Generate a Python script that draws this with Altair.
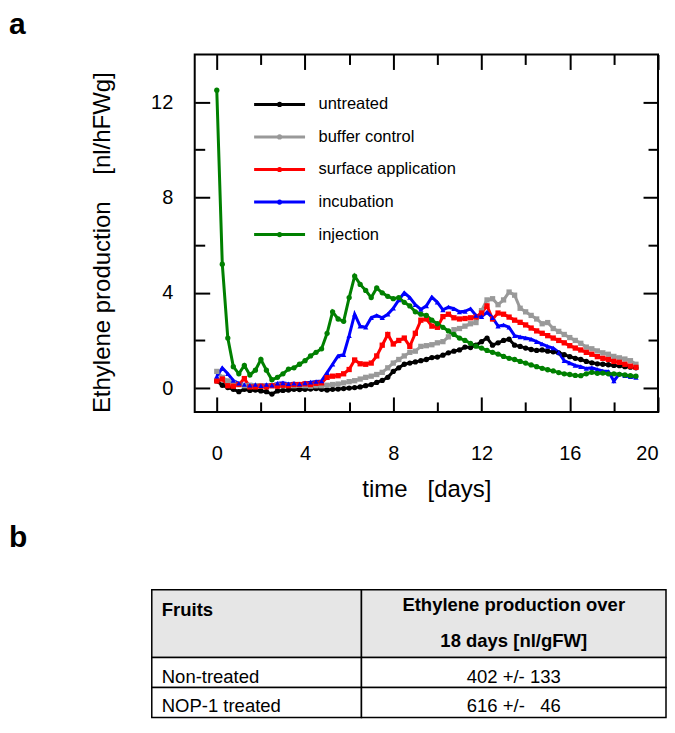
import altair as alt
import pandas as pd

FONT = "Liberation Sans"

# ---------------- panel a data ----------------
days = [0, 0.25, 0.5, 0.75, 1, 1.25, 1.5, 1.75, 2, 2.25,
        2.5, 2.75, 3, 3.25, 3.5, 3.75, 4, 4.25, 4.5, 4.75,
        5, 5.25, 5.5, 5.75, 6, 6.25, 6.5, 6.75, 7, 7.25,
        7.5, 7.75, 8, 8.25, 8.5, 8.75, 9, 9.25, 9.5, 9.75,
        10, 10.25, 10.5, 10.75, 11, 11.25, 11.5, 11.75, 12, 12.25,
        12.5, 12.75, 13, 13.25, 13.5, 13.75, 14, 14.25, 14.5, 14.75,
        15, 15.25, 15.5, 15.75, 16, 16.25, 16.5, 16.75, 17, 17.25,
        17.5, 17.75, 18, 18.25, 18.5, 18.75, 19]

untreated = [0.3, 0.12, 0.02, -0.05, -0.15, -0.05, -0.1, -0.08, -0.12, -0.15,
             -0.25, -0.12, -0.1, -0.08, -0.05, -0.06, -0.05, -0.04, -0.02, -0.05,
             -0.08, -0.05, -0.04, -0.02, 0.0, 0.02, 0.05, 0.1, 0.15, 0.24,
             0.32, 0.45, 0.7, 0.85, 1.0, 1.05, 1.1, 1.15, 1.2, 1.28,
             1.3, 1.38, 1.48, 1.55, 1.6, 1.72, 1.7, 1.8, 1.95, 2.1,
             1.8, 1.9, 2.0, 2.05, 1.8, 1.75, 1.68, 1.62, 1.58, 1.6,
             1.55, 1.52, 1.48, 1.4, 1.32, 1.25, 1.2, 1.12, 1.06, 1.02,
             1.0, 0.98, 0.95, 0.94, 0.9, 0.88, 0.85]

buffer_control = [0.7, 0.45, 0.3, 0.2, 0.15, 0.1, 0.12, 0.1, 0.1, 0.08,
                  0.1, 0.12, 0.1, 0.12, 0.1, 0.12, 0.1, 0.08, 0.1, 0.1,
                  0.12, 0.15, 0.17, 0.22, 0.27, 0.31, 0.38, 0.45, 0.5, 0.57,
                  0.66, 0.85, 1.05, 1.2, 1.35, 1.5, 1.55, 1.75, 1.78, 1.82,
                  1.9, 1.95, 2.15, 2.45, 2.5, 2.6, 2.7, 2.75, 3.25, 3.7,
                  3.75, 3.5, 3.7, 4.03, 3.9, 3.35, 3.2, 3.05, 2.9, 2.7,
                  2.75, 2.5, 2.38, 2.25, 2.12, 2.0, 1.88, 1.72, 1.65, 1.56,
                  1.48, 1.42, 1.33, 1.27, 1.22, 1.15, 1.0]

surface_application = [0.3, 0.38, 0.1, 0.08, 0.15, 0.4, 0.05, 0.05, 0.08, 0.05,
                       0.1, 0.08, 0.12, 0.1, 0.15, 0.15, 0.18, 0.15, 0.2, 0.22,
                       0.45, 0.5, 0.52, 0.6, 0.78, 1.18, 1.02, 1.0, 1.05, 1.35,
                       1.8, 2.25, 1.85, 2.0, 2.1, 1.75, 2.3, 2.85, 2.9, 2.6,
                       2.55, 3.0, 3.1, 2.95, 2.9, 2.92, 2.95, 2.98, 3.15, 3.45,
                       2.9, 3.15, 3.1, 2.98, 2.85, 2.76, 2.65, 2.52, 2.4, 2.3,
                       2.2, 2.1, 2.0, 1.9, 1.78, 1.68, 1.6, 1.5, 1.42, 1.32,
                       1.25, 1.2, 1.12, 1.08, 1.0, 0.92, 0.87]

incubation = [0.5, 0.85, 0.6, 0.32, 0.2, 0.15, 0.12, 0.15, 0.1, 0.15,
              0.12, 0.2, 0.22, 0.18, 0.2, 0.17, 0.22, 0.25, 0.28, 0.3,
              0.65, 1.0, 1.35, 1.4, 2.2, 3.1, 2.6, 2.55, 2.95, 3.05,
              2.95, 3.1, 3.35, 3.7, 4.0, 3.8, 3.5, 3.3, 3.45, 3.82,
              3.6, 3.28, 3.4, 3.33, 3.2, 3.22, 3.33, 3.05, 3.0, 3.18,
              2.95, 2.6, 2.65, 2.55, 2.2, 2.15, 2.1, 2.05, 1.95, 1.85,
              1.75, 1.68, 1.5, 1.15, 1.05, 0.95, 0.9, 0.82, 0.85, 0.78,
              0.72, 0.7, 0.3, 0.6, 0.52, 0.48, 0.45]

injection = [12.5, 5.2, 2.1, 0.9, 0.6, 0.95, 0.55, 0.75, 1.2, 0.75,
             0.35, 0.45, 0.6, 0.8, 0.85, 1.0, 1.15, 1.35, 1.5, 1.65,
             2.3, 3.2, 2.9, 2.8, 3.8, 4.7, 4.35, 4.1, 3.8, 4.2,
             4.0, 3.85, 3.75, 3.8, 3.6, 3.45, 3.2, 3.1, 3.05, 2.85,
             2.7, 2.55, 2.4, 2.25, 2.1, 2.0, 1.88, 1.76, 1.68, 1.58,
             1.5, 1.43, 1.33, 1.25, 1.2, 1.12, 1.05, 0.97, 0.9, 0.83,
             0.77, 0.72, 0.65, 0.6, 0.57, 0.53, 0.52, 0.6, 0.66, 0.62,
             0.63, 0.6, 0.6, 0.58, 0.55, 0.52, 0.5]

series_names = ["untreated", "buffer control", "surface application", "incubation", "injection"]
series_colors = ["#000000", "#999999", "#ff0000", "#0000ff", "#008000"]
series_shapes = ["circle", "square", "square", "triangle-up", "circle"]

x_major = [0, 4, 8, 12, 16, 20]
x_minor = [2, 6, 10, 14, 18]
y_major = [0, 4, 8, 12]
y_minor = [2, 6, 10]

# ---------------- panel b data ----------------
table_head_left = "Fruits"
table_head_right = ["Ethylene production over", "18 days [nl/gFW]"]
table_groups = ["Non-treated", "NOP-1 treated"]
table_values = ["402 +/- 133", "616 +/-\u00a0\u00a0\u00a046"]

# ---------------- build panel a ----------------
series_values = [untreated, buffer_control, surface_application, incubation, injection]
rows = []
for k, (name, vals) in enumerate(zip(series_names, series_values)):
    for d, v in zip(days, vals):
        rows.append({"day": d, "value": v, "series": name, "marker": name, "k": k})
df = pd.DataFrame(rows)

x_scale = alt.Scale(domain=[-1, 20], nice=False, zero=False)
y_scale = alt.Scale(domain=[-1, 14], nice=False, zero=False)
color_scale = alt.Scale(domain=series_names, range=series_colors)
shape_scale = alt.Scale(domain=series_names, range=series_shapes)


def tick_axis(orient, values, size):
    return alt.Axis(orient=orient, values=values, tickSize=size, offset=-size,
                    labels=False, domain=False, grid=False, ticks=True,
                    tickColor="black", tickWidth=2, title=None)


legend = alt.Legend(
    title=None, orient="none", legendX=75, legendY=40,
    symbolType="M-3,0H3M0.13,0A0.13,0.13,0,1,1,-0.13,0A0.13,0.13,0,1,1,0.13,0Z",
    symbolSize=289, symbolStrokeWidth=3, labelFontSize=16.5, labelFont=FONT,
    labelColor="black", labelOffset=29, rowPadding=13.6, padding=0,
)

base = alt.Chart(df)

lines = base.mark_line(strokeWidth=3).encode(
    x=alt.X("day:Q", scale=x_scale, axis=alt.Axis(
        orient="bottom", values=x_major, tickSize=15, offset=-15, labelPadding=32,
        labelFont=FONT, labelFontSize=20, labelColor="black", domain=False, grid=False,
        tickColor="black", tickWidth=2, title="time\u00a0\u00a0\u00a0[days]",
        titleFont=FONT, titleFontSize=24, titleFontWeight="normal", titleColor="black",
        titlePadding=14)),
    y=alt.Y("value:Q", scale=y_scale, axis=alt.Axis(
        orient="left", values=y_major, tickSize=15, offset=-15, labelPadding=22,
        labelFont=FONT, labelFontSize=20, labelColor="black", domain=False, grid=False,
        tickColor="black", tickWidth=2,
        title="Ethylene production\u00a0\u00a0\u00a0\u00a0[nl/hFWg]",
        titleFont=FONT, titleFontSize=24, titleFontWeight="normal", titleColor="black",
        titlePadding=36, titleY=188)),
    color=alt.Color("series:N", scale=color_scale, legend=legend),
    detail="k:O",
)

points = base.mark_point(filled=True, size=28, opacity=1).encode(
    x=alt.X("day:Q", scale=x_scale, axis=tick_axis("bottom", x_minor, 10)),
    y=alt.Y("value:Q", scale=y_scale, axis=tick_axis("left", y_minor, 10)),
    color=alt.Color("marker:N", scale=color_scale, legend=None),
    shape=alt.Shape("marker:N", scale=shape_scale, legend=None),
)

top_right_major = base.mark_point(opacity=0).encode(
    x=alt.X("day:Q", scale=x_scale, axis=tick_axis("top", x_major, 15)),
    y=alt.Y("value:Q", scale=y_scale, axis=tick_axis("right", y_major, 15)),
)
top_right_minor = base.mark_point(opacity=0).encode(
    x=alt.X("day:Q", scale=x_scale, axis=tick_axis("top", x_minor, 10)),
    y=alt.Y("value:Q", scale=y_scale, axis=tick_axis("right", y_minor, 10)),
)

panel_a = alt.layer(lines, points, top_right_major, top_right_minor).resolve_axis(
    x="independent", y="independent"
).resolve_scale(
    color="independent", shape="independent"
).resolve_legend(
    color="independent", shape="independent"
).properties(
    width=464, height=358,
    view=alt.ViewBackground(stroke="black", strokeWidth=2),
    title=alt.TitleParams("a", anchor="start", frame="group", dx=-186, fontSize=30,
                          fontWeight="bold", font=FONT, color="black", offset=14),
)

# ---------------- build panel b (table) ----------------
col_widths = [210, 305]
row_heights = [68, 30, 30]
col_edges = [0, col_widths[0], col_widths[0] + col_widths[1]]
row_edges = [0, row_heights[0], row_heights[0] + row_heights[1], sum(row_heights)]

cells = []
for r in range(3):
    for c in range(2):
        cells.append({"x0": col_edges[c], "x1": col_edges[c + 1],
                      "y0": row_edges[r], "y1": row_edges[r + 1],
                      "fill": "#e6e6e6" if r == 0 else "#ffffff"})
cells_df = pd.DataFrame(cells)

tx = alt.Scale(domain=[0, col_edges[2]], range=[-43, 472])
ty = alt.Scale(domain=[0, row_edges[3]], range=[0, row_edges[3]])

left_x = 10
right_x = (col_edges[1] + col_edges[2]) / 2

head_left_df = pd.DataFrame([{"t": table_head_left, "x": left_x, "y": 20}])
head_right_df = pd.DataFrame([{"t": table_head_right[0], "x": right_x, "y": 15},
                              {"t": table_head_right[1], "x": right_x, "y": 51}])
body_left_df = pd.DataFrame([{"t": g, "x": left_x, "y": row_edges[i + 1] + 19}
                             for i, g in enumerate(table_groups)])
body_right_df = pd.DataFrame([{"t": v, "x": right_x, "y": row_edges[i + 1] + 19}
                              for i, v in enumerate(table_values)])

rects = alt.Chart(cells_df).mark_rect(stroke="black", strokeWidth=1.5).encode(
    x=alt.X("x0:Q", scale=tx, axis=None), x2="x1",
    y=alt.Y("y0:Q", scale=ty, axis=None), y2="y1",
    fill=alt.Fill("fill:N", scale=None),
)


def text_layer(d, align, weight):
    return alt.Chart(d).mark_text(align=align, baseline="middle", font=FONT,
                                  fontSize=18.5, fontWeight=weight, color="black").encode(
        x=alt.X("x:Q", scale=tx, axis=None),
        y=alt.Y("y:Q", scale=ty, axis=None),
        text="t:N",
    )


panel_b = alt.layer(
    rects,
    text_layer(head_left_df, "left", "bold"),
    text_layer(head_right_df, "center", "bold"),
    text_layer(body_left_df, "left", "normal"),
    text_layer(body_right_df, "center", "normal"),
).properties(
    width=472, height=row_edges[3],
    title=alt.TitleParams("b", anchor="start", frame="group", dx=-186, fontSize=30,
                          fontWeight="bold", font=FONT, color="black", offset=36),
)

chart = alt.vconcat(panel_a, panel_b, spacing=20).properties(padding=0).configure_view(
    strokeWidth=0
)

chart.save("out.html", embed_options={"renderer": "svg", "actions": False})
